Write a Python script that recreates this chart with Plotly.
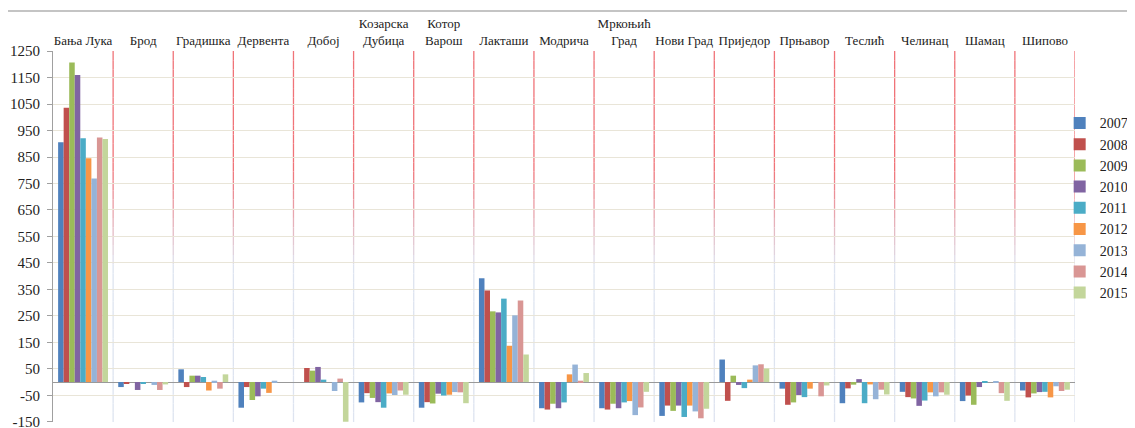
import plotly.graph_objects as go

categories = ["Бања Лука", "Брод", "Градишка", "Дервента", "Добој", "Козарска<br>Дубица",
              "Котор<br>Варош", "Лакташи", "Модрича", "Мркоњић<br>Град", "Нови Град",
              "Приједор", "Прњавор", "Теслић", "Челинац", "Шамац", "Шипово"]

years = ["2007", "2008", "2009", "2010", "2011", "2012", "2013", "2014", "2015"]

v2007 = [906, -19, 48, -97, 0, -77, -97, 392, -99, -99, -128, 85, -25, -80, -37, -72, -32]
v2008 = [1036, -7, -19, -19, 53, -42, -76, 346, -104, -104, -89, -71, -86, -24, -57, -51, -58]
v2009 = [1207, 0, 24, -68, 43, -60, -81, 267, -82, -82, -109, 24, -77, -10, -62, -86, -43]
v2010 = [1160, -30, 24, -54, 57, -76, -44, 263, -99, -99, -89, -11, -49, 11, -90, -19, -38]
v2011 = [921, -7, 19, -25, 9, -97, -51, 315, -77, -77, -132, -23, -57, -80, -70, 4, -37]
v2012 = [845, 0, -32, -41, 0, -43, -48, 137, 29, -72, -89, 9, -25, -9, -39, 0, -58]
v2013 = [769, -11, 5, 5, -34, -49, -38, 252, 66, -125, -111, 63, 0, -65, -54, 4, -16]
v2014 = [924, -30, -25, 0, 13, -32, -39, 308, 5, -96, -137, 67, -54, -29, -39, -42, -34]
v2015 = [918, -9, 29, 0, -150, -48, -80, 104, 34, -37, -101, 51, -13, -47, -48, -71, -29]

series = [v2007, v2008, v2009, v2010, v2011, v2012, v2013, v2014, v2015]
colors = ["#4F81BD", "#C0504D", "#9BBB59", "#8064A2", "#4BACC6", "#F79646",
          "#95B3D7", "#D99694", "#C3D69B"]

tick_vals = list(range(-150, 1251, 100))

fig = go.Figure()
for name, vals, col in zip(years, series, colors):
    fig.add_trace(go.Bar(x=categories, y=vals, name=name, marker_color=col,
                         marker_line_width=0))

# separator lines with a red -> light blue fade
def mix(c1, c2, t):
    return "rgb(%d,%d,%d)" % tuple(round(a + (b - a) * t) for a, b in zip(c1, c2))

red = (240, 115, 120)
blue = (222, 228, 240)
nseg = 40
shapes = []
for i in range(len(categories)):
    xpos = i + 0.5
    for s in range(nseg):
        y1 = 1 - s / nseg
        y0 = 1 - (s + 1) / nseg
        ym = (y0 + y1) / 2
        t = min(1, max(0, (0.68 - ym) / 0.26))
        shapes.append(dict(type="line", xref="x", yref="paper", x0=xpos, x1=xpos,
                           y0=y0, y1=y1, line=dict(color=mix(red, blue, t), width=1.3),
                           layer="below"))

# outer frame (top and left)
shapes.append(dict(type="line", xref="paper", yref="paper", x0=-0.045, x1=1.06,
                   y0=1.108, y1=1.108, line=dict(color="#b0b0b0", width=1.5)))
shapes.append(dict(type="line", xref="paper", yref="paper", x0=-0.045, x1=-0.045,
                   y0=-0.03, y1=1.108, line=dict(color="#b0b0b0", width=1.5)))

fig.update_layout(
    width=1127, height=420,
    margin=dict(l=45, r=60, t=43, b=6, autoexpand=False),
    paper_bgcolor="white", plot_bgcolor="white",
    barmode="group", bargap=0.17, bargroupgap=0,
    font=dict(family="Liberation Serif, DejaVu Serif, serif", color="#222"),
    showlegend=True,
    legend=dict(x=0.985, y=0.848, xanchor="left", yanchor="top",
                font=dict(size=14, color="#222"), traceorder="normal",
                itemwidth=30, tracegroupgap=0, bgcolor="rgba(0,0,0,0)"),
    shapes=shapes,
    xaxis=dict(side="top", type="category", showgrid=False, ticks="",
               tickfont=dict(size=13), showline=False, zeroline=False, automargin=False,
               range=[-0.5, len(categories) - 0.5], ticklabelstandoff=2),
    yaxis=dict(range=[-151, 1250.5], tickvals=tick_vals, ticktext=[str(v) for v in tick_vals],
               showgrid=True, gridcolor="#e9e5d8", gridwidth=1, automargin=False,
               zeroline=True, zerolinecolor="#999999", zerolinewidth=1.3,
               showline=True, linecolor="#a0a0a0", linewidth=1,
               ticks="outside", ticklen=5, tickcolor="#a0a0a0",
               ticklabeloverflow="allow",
               tickfont=dict(size=15), ticklabelstandoff=4),
)

fig.write_html("out.html")
